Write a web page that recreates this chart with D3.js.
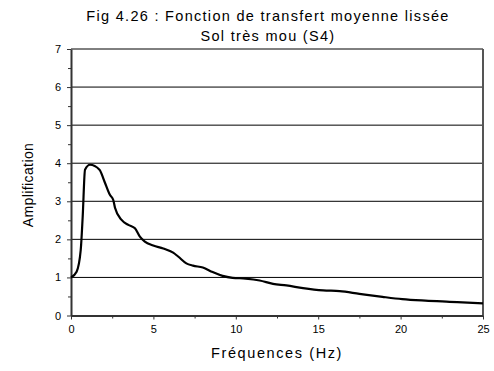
<!DOCTYPE html>
<html>
<head>
<meta charset="utf-8">
<script src="https://cdn.jsdelivr.net/npm/d3@7"></script>
<style>
  body { margin: 0; background: #fff; }
  text { font-family: "Liberation Sans", Arial, sans-serif; fill: #000; }
</style>
</head>
<body>
<div id="area1"></div>
<script>
const w1 = 494;
const h1 = 371;

// Data
const freq = [0, 0.34, 0.59, 0.71, 0.85, 1.15, 1.73, 2.03, 2.36, 2.56, 2.67, 3.07, 3.48, 3.88, 4.18, 4.48, 4.99,
              5.6, 6.2, 6.5, 7.0, 7.4, 8.0, 8.6, 9.2, 9.8, 10.6, 11.45, 12.26, 13.07, 14.08, 15.3, 16.3,
              17.5, 18.9, 20.1, 21.5, 22.97, 25];
const ampl = [1.0, 1.15, 1.72, 2.6, 3.83, 3.96, 3.83, 3.52, 3.17, 3.04, 2.83, 2.51, 2.38, 2.29, 2.07, 1.94, 1.84,
              1.76, 1.65, 1.55, 1.37, 1.31, 1.26, 1.14, 1.04, 0.99, 0.97, 0.92, 0.83, 0.79, 0.72, 0.66, 0.64,
              0.57, 0.49, 0.43, 0.39, 0.36, 0.32];
const xTicks = [0, 5, 10, 15, 20, 25];
const yTicks = [0, 1, 2, 3, 4, 5, 6, 7];
const titleLines = ["Fig 4.26 : Fonction de transfert moyenne lissée", "Sol très mou (S4)"];

const margin = {left: 71, right: 10, top: 49, bottom: 55};

let svg1 = d3.select("#area1")
            .append("svg")
            .attr("width", w1)
            .attr("height", h1);

let x = d3.scaleLinear().domain([0, 25]).range([margin.left, 483]);
let y = d3.scaleLinear().domain([0, 7]).range([315.5, margin.top]);

// gridlines
svg1.append("g")
    .selectAll("line")
    .data(yTicks.slice(1))
    .enter()
    .append("line")
    .attr("x1", x(0))
    .attr("x2", x(25))
    .attr("y1", d => y(d))
    .attr("y2", d => y(d))
    .attr("stroke", "#000")
    .attr("stroke-width", 1);

// right border
svg1.append("line")
    .attr("x1", x(25)).attr("x2", x(25))
    .attr("y1", y(7)).attr("y2", y(0))
    .attr("stroke", "#555").attr("stroke-width", 2);

// minor ticks
svg1.append("g")
    .attr("transform", "translate(0," + y(0) + ")")
    .call(d3.axisBottom(x).tickValues(d3.range(2.5, 25, 5)).tickSize(3).tickFormat(""))
    .call(g => g.select(".domain").remove());
svg1.append("g")
    .attr("transform", "translate(" + x(0) + ",0)")
    .call(d3.axisLeft(y).tickValues(d3.range(0.5, 7, 1)).tickSize(3).tickFormat(""))
    .call(g => g.select(".domain").remove());

// axes
let xAxis = svg1.append("g")
    .attr("transform", "translate(0," + y(0) + ")")
    .call(d3.axisBottom(x).tickValues(xTicks).tickSize(4).tickSizeOuter(0).tickPadding(6).tickFormat(d3.format("d")));
let yAxis = svg1.append("g")
    .attr("transform", "translate(" + x(0) + ",0)")
    .call(d3.axisLeft(y).tickValues(yTicks).tickSize(4).tickSizeOuter(0).tickPadding(6).tickFormat(d3.format("d")));

svg1.selectAll(".domain").attr("stroke", "#333").attr("stroke-width", 2);
svg1.selectAll(".tick text").attr("font-size", "11px").attr("font-family", "Liberation Sans, Arial, sans-serif");
svg1.selectAll(".tick line").attr("stroke", "#333");

// curve
let line = d3.line()
    .x((d, i) => x(freq[i]))
    .y(d => y(d))
    .curve(d3.curveMonotoneX);

svg1.append("path")
    .datum(ampl)
    .attr("d", line)
    .attr("fill", "none")
    .attr("stroke", "#000")
    .attr("stroke-width", 2.2);

// titles
svg1.selectAll(".title")
    .data(titleLines)
    .enter()
    .append("text")
    .attr("class", "title")
    .attr("x", 268)
    .attr("y", (d, i) => 21 + i * 20)
    .attr("text-anchor", "middle")
    .attr("font-size", "14.5px")
    .attr("letter-spacing", "1.3px")
    .text(d => d);

svg1.append("text")
    .attr("x", 277)
    .attr("y", 358)
    .attr("text-anchor", "middle")
    .attr("font-size", "14.5px")
    .attr("letter-spacing", "1.6px")
    .text("Fréquences (Hz)");

svg1.append("text")
    .attr("transform", "translate(33,185) rotate(-90)")
    .attr("text-anchor", "middle")
    .attr("font-size", "14px")
    .attr("letter-spacing", "0.4px")
    .text("Amplification");
</script>
</body>
</html>
